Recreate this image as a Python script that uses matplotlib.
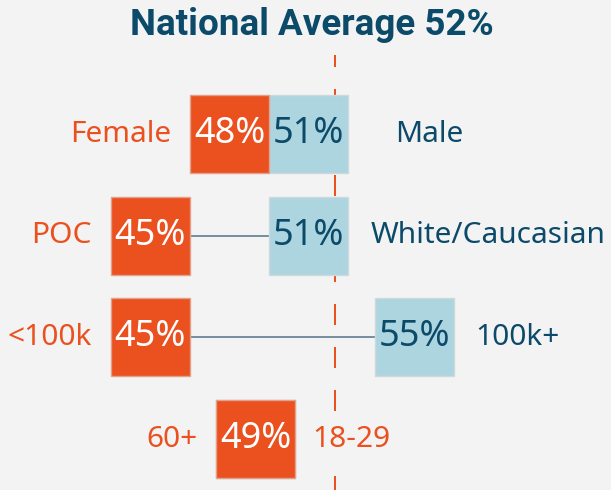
import matplotlib
matplotlib.use("Agg")
import matplotlib.pyplot as plt
from matplotlib.patches import Rectangle

# Data
left_labels = ["Female", "POC", "<100k", "60+"]
left_values = [48, 45, 45, 49]
right_labels = ["Male", "White/Caucasian", "100k+", "18-29"]
right_values = [51, 51, 55, 49]
national_avg = 52
title = "National Average 52%"

# Styles
BG = "#f3f3f3"
ORANGE = "#eb501f"
BLUE = "#add5e0"
TEAL = "#0c4a6a"
LINK = "#617d8f"
right_label_colors = [TEAL, TEAL, TEAL, ORANGE]
right_gap = [3.27, 2.36, 2.3, 2.13]
left_gap = 2.2

plt.rcParams['font.family'] = ['Noto Sans', 'DejaVu Sans']

fig = plt.figure(figsize=(6.11, 4.90), dpi=100, facecolor=BG)
ax = fig.add_axes([0, 0, 1, 1])
ax.set_facecolor(BG)
px_per_unit = 26.4
ax.set_xlim(national_avg - 335 / px_per_unit, national_avg + 276 / px_per_unit)
row_px = 101.7
ax.set_ylim((490 - 134) / row_px, -134 / row_px)
ax.axis("off")

box_w = 3.0
box_h = 78 / row_px

# national average dashed line
ax.plot([national_avg, national_avg], [(55 - 134) / row_px, (490 - 134) / row_px],
        color=ORANGE, lw=1.44, ls=(4.5, (10.5, 11)), zorder=1, solid_capstyle="butt")

for i in range(len(left_labels)):
    lv, rv = left_values[i], right_values[i]
    ax.plot([lv, rv], [i, i], color=LINK, lw=1.2, zorder=2)
    # right box
    ax.add_patch(Rectangle((rv - box_w / 2, i - box_h / 2), box_w, box_h,
                           facecolor=BLUE, edgecolor="#cdd9dd", lw=1, zorder=3))
    ax.text(rv, i, f"{rv}%", ha="center", va="center", fontsize=26,
            color=TEAL, zorder=4)
    # left box
    ax.add_patch(Rectangle((lv - box_w / 2, i - box_h / 2), box_w, box_h,
                           facecolor=ORANGE, edgecolor="#e3a08a", lw=1, zorder=5))
    ax.text(lv, i, f"{lv}%", ha="center", va="center", fontsize=26,
            color="white", zorder=6)
    # labels
    ax.text(lv - left_gap, i, left_labels[i], ha="right", va="center",
            fontsize=21.5, color=ORANGE, zorder=7)
    ax.text(rv + right_gap[i], i, right_labels[i], ha="left", va="center",
            fontsize=21.5, color=right_label_colors[i], zorder=7,
            bbox=dict(facecolor=BG, edgecolor="none", pad=1))

fig.text(311.5 / 611, 1 - 25 / 490, title, ha="center", va="center",
         fontsize=26.5, fontweight="bold", color=TEAL,
         family=['Roboto', 'Open Sans', 'DejaVu Sans'])

fig.savefig("out.png", dpi=100, facecolor=BG)
